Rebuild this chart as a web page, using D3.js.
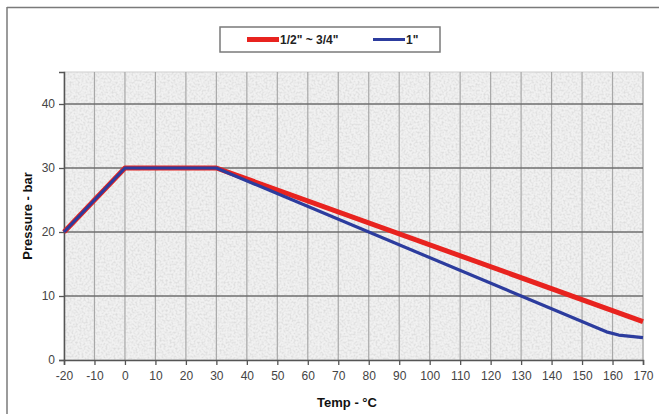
<!DOCTYPE html>
<html>
<head>
<meta charset="utf-8">
<script src="https://cdn.jsdelivr.net/npm/d3@7"></script>
<style>
  body { margin: 0; background: #fff; }
  svg { display: block; font-family: "Liberation Sans", Arial, sans-serif; }
</style>
</head>
<body>
<script>
var w = 659, h = 414;
var margin = {top: 72, right: 16, bottom: 54, left: 64};
var innerW = w - margin.left - margin.right,
    innerH = h - margin.top - margin.bottom;

// data
var xTicks = [-20, -10, 0, 10, 20, 30, 40, 50, 60, 70, 80, 90, 100, 110, 120, 130, 140, 150, 160, 170];
var yTicks = [0, 10, 20, 30, 40];
var smallTemp = [-20, 0, 30, 170];
var smallPress = [20, 30, 30, 6];
var bigTemp = [-20, 0, 30, 158, 162, 166, 170];
var bigPress = [20, 30, 30, 4.4, 3.9, 3.7, 3.5];
var seriesNames = ['1/2" ~ 3/4"', '1"'];
var seriesColors = ['#e8231f', '#2c3c9e'];

var svg = d3.select('body').append('svg')
    .attr('width', w)
    .attr('height', h);

// speckled texture
var defs = svg.append('defs');
var f = defs.append('filter').attr('id', 'granite')
    .attr('x', 0).attr('y', 0).attr('width', 1).attr('height', 1);
f.append('feTurbulence').attr('type', 'fractalNoise')
    .attr('baseFrequency', 0.5).attr('numOctaves', 2).attr('seed', 3).attr('result', 'n');
f.append('feColorMatrix').attr('in', 'n').attr('type', 'matrix')
    .attr('values', '0 0 0 0 0.72  0 0 0 0 0.72  0 0 0 0 0.72  0 0 0 -2.4 1.45')
    .attr('result', 'c');
f.append('feComposite').attr('in', 'c').attr('in2', 'SourceGraphic').attr('operator', 'in');

// outer frame
svg.append('line').attr('x1', 7).attr('x2', 7).attr('y1', 7).attr('y2', h)
    .attr('stroke', '#7a7a7a').attr('stroke-width', 1.5);
svg.append('line').attr('x1', 7).attr('x2', w).attr('y1', 7.5).attr('y2', 7.5)
    .attr('stroke', '#7a7a7a').attr('stroke-width', 1.5);

var g = svg.append('g')
    .attr('transform', 'translate(' + [margin.left, margin.top] + ')');

var x = d3.scaleLinear().domain([-20, 170]).range([0, innerW]);
var y = d3.scaleLinear().domain([0, 45]).range([innerH, 0]);

// plot background
g.append('rect').attr('width', innerW).attr('height', innerH).attr('fill', '#f1f1f1');
g.append('rect').attr('width', innerW).attr('height', innerH).attr('fill', '#fff')
    .attr('filter', 'url(#granite)');
g.append('rect').attr('width', innerW).attr('height', innerH)
    .attr('fill', 'none').attr('stroke', '#cfcfcf');

// gridlines
g.selectAll('.vgrid').data(xTicks.slice(1)).enter().append('line')
    .attr('x1', x).attr('x2', x).attr('y1', 0).attr('y2', innerH)
    .attr('stroke', '#a8a8a8').attr('stroke-width', 1.2);
g.selectAll('.hgrid').data(yTicks.slice(1)).enter().append('line')
    .attr('x1', 0).attr('x2', innerW).attr('y1', y).attr('y2', y)
    .attr('stroke', '#6e6e6e').attr('stroke-width', 1.3);

// axes
var fmt = function(d) { return String(d); };
var xAxis = g.append('g').attr('transform', 'translate(0,' + innerH + ')')
    .call(d3.axisBottom(x).tickValues(xTicks).tickFormat(fmt).tickSize(5).tickPadding(4));
var yAxis = g.append('g')
    .call(d3.axisLeft(y).tickValues(yTicks).tickFormat(fmt).tickSize(5).tickPadding(4));
[xAxis, yAxis].forEach(function(a) {
    a.select('.domain').attr('stroke', '#555').attr('stroke-width', 1.5);
    a.selectAll('.tick line').attr('stroke', '#555').attr('stroke-width', 1.3);
    a.selectAll('text').attr('fill', '#444').style('font-size', '12px')
        .style('font-family', '"Liberation Sans", Arial, sans-serif');
});
xAxis.selectAll('text').attr('dy', '0.9em');

// lines
var line = d3.line().x(function(d) { return x(d[0]); }).y(function(d) { return y(d[1]); });
var red = smallTemp.map(function(t, i) { return [t, smallPress[i]]; });
var blue = bigTemp.map(function(t, i) { return [t, bigPress[i]]; });
g.append('path').datum(red).attr('d', line)
    .attr('fill', 'none').attr('stroke', seriesColors[0]).attr('stroke-width', 5)
    .attr('stroke-linejoin', 'round');
g.append('path').datum(blue).attr('d', line)
    .attr('fill', 'none').attr('stroke', seriesColors[1]).attr('stroke-width', 3.2)
    .attr('stroke-linejoin', 'round');

// axis titles
svg.append('text').attr('x', 347).attr('y', 407).attr('text-anchor', 'middle')
    .style('font-size', '13px').style('font-weight', 'bold').attr('fill', '#111')
    .text('Temp - °C');
svg.append('text').attr('transform', 'translate(32,216) rotate(-90)')
    .attr('text-anchor', 'middle')
    .style('font-size', '13px').style('font-weight', 'bold').attr('fill', '#111')
    .text('Pressure - bar');

// legend
var lg = svg.append('g').attr('transform', 'translate(220,27)');
lg.append('rect').attr('width', 220).attr('height', 25)
    .attr('fill', '#fff').attr('stroke', '#7a7a7a').attr('stroke-width', 1.5);
var lx = [27, 153];
seriesNames.forEach(function(name, i) {
    lg.append('line').attr('x1', lx[i]).attr('x2', lx[i] + 32).attr('y1', 12.5).attr('y2', 12.5)
        .attr('stroke', seriesColors[i]).attr('stroke-width', i === 0 ? 5 : 3);
    lg.append('text').attr('x', lx[i] + 33).attr('y', 17)
        .style('font-size', '12px').style('font-weight', 'bold').attr('fill', '#222')
        .text(name);
});
</script>
</body>
</html>
